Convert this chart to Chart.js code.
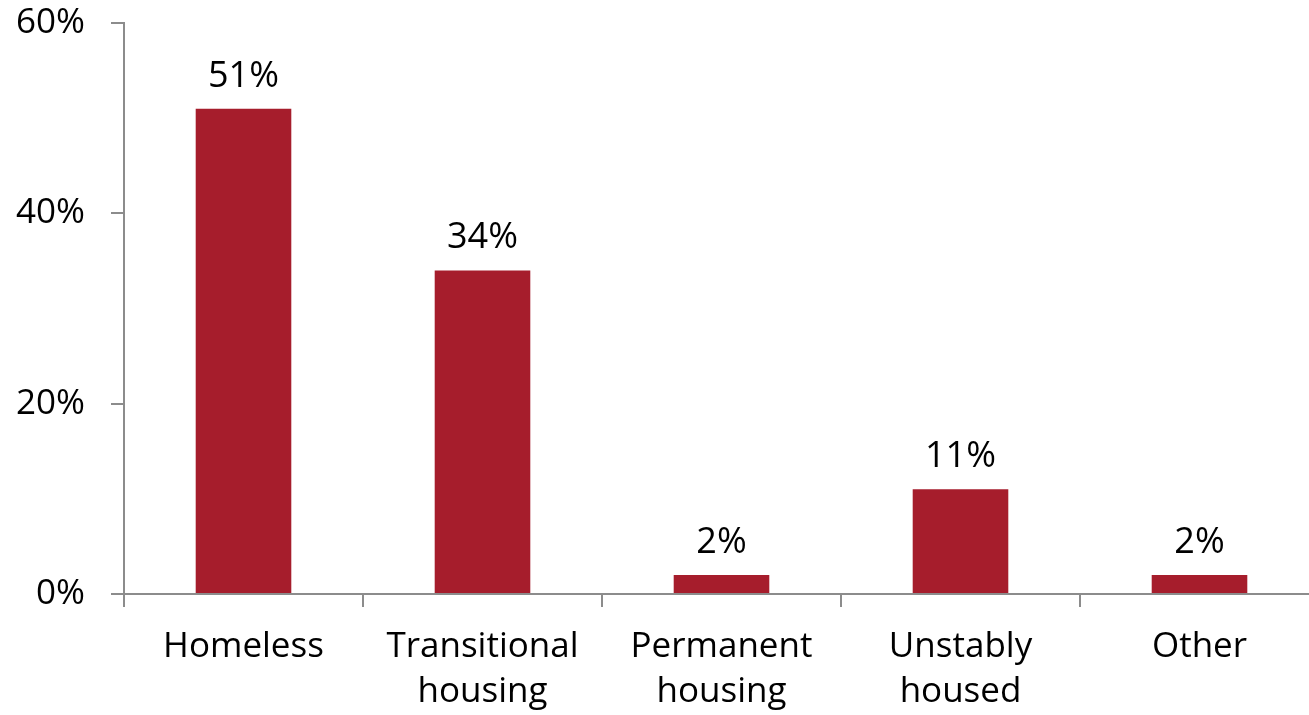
<!DOCTYPE html>
<html>
<head>
<meta charset="utf-8">
<script src="https://cdn.jsdelivr.net/npm/chart.js@4/dist/chart.umd.min.js"></script>
<style>
  html, body { margin: 0; padding: 0; background: #fff; overflow: hidden; }
  #wrap { position: relative; width: 1319px; height: 715px; }
</style>
</head>
<body>
<div id="wrap"><canvas id="chart"></canvas></div>
<script>
// Housing situation categories and their shares (percent)
const categories = [
  'Homeless',
  ['Transitional', 'housing'],
  ['Permanent', 'housing'],
  ['Unstably', 'housed'],
  'Other'
];
const shares = [51, 34, 2, 11, 2];
const yTicks = [0, 20, 40, 60];

const FONT = '"Open Sans", "Liberation Sans", sans-serif';
const AXIS_GREY = '#8c8c8c';
const BAR_RED = '#a61d2c';

// Draws the value above each bar, positioned from the bar element itself
const valueLabels = {
  id: 'valueLabels',
  afterDatasetsDraw(chart) {
    const ctx = chart.ctx;
    const meta = chart.getDatasetMeta(0);
    ctx.save();
    ctx.font = '36px ' + FONT;
    ctx.fillStyle = '#000';
    ctx.textAlign = 'center';
    ctx.textBaseline = 'alphabetic';
    meta.data.forEach((bar, i) => {
      ctx.fillText(shares[i] + '%', bar.x, bar.y - 22);
    });
    ctx.restore();
  }
};

new Chart(document.getElementById('chart'), {
  type: 'bar',
  data: {
    labels: categories,
    datasets: [{
      data: shares,
      backgroundColor: BAR_RED,
      borderWidth: 0,
      categoryPercentage: 1.0,
      barPercentage: 0.4
    }]
  },
  options: {
    responsive: true,
    maintainAspectRatio: false,
    animation: false,
    layout: { padding: { top: 23, right: 0, bottom: 0, left: 0 } },
    plugins: {
      legend: { display: false },
      tooltip: { enabled: false }
    },
    scales: {
      x: {
        grid: {
          offset: true,
          drawOnChartArea: false,
          drawTicks: true,
          tickLength: 13,
          color: AXIS_GREY,
          lineWidth: 2
        },
        border: { color: AXIS_GREY, width: 2 },
        ticks: {
          color: '#000',
          padding: 17,
          maxRotation: 0,
          autoSkip: false,
          font: { family: FONT, size: 35, lineHeight: 1.29 }
        },
        afterFit(scale) { scale.height = 121; }
      },
      y: {
        min: 0,
        max: 60,
        afterBuildTicks(scale) { scale.ticks = yTicks.map(v => ({ value: v })); },
        grid: {
          drawOnChartArea: false,
          drawTicks: true,
          tickLength: 13,
          color: AXIS_GREY,
          lineWidth: 2
        },
        border: { color: AXIS_GREY, width: 2 },
        ticks: {
          color: '#000',
          padding: 26,
          font: { family: FONT, size: 35 },
          callback: v => v + '%'
        },
        afterFit(scale) {
          scale.width = 124;
          scale.paddingTop = 0;
          scale.paddingBottom = 0;
        }
      }
    }
  },
  plugins: [valueLabels]
});
</script>
</body>
</html>
